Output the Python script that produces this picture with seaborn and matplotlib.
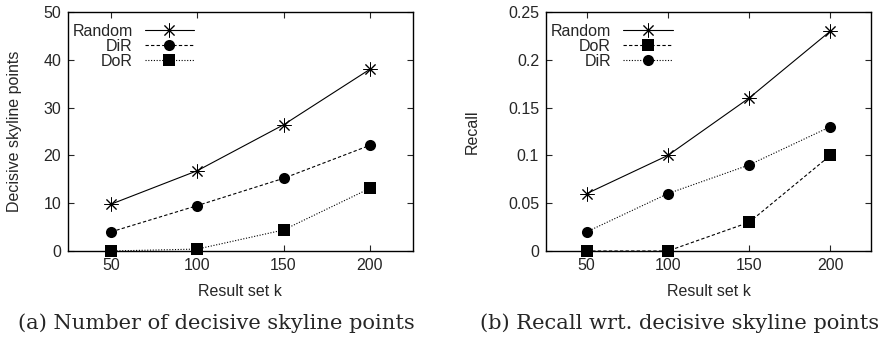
import matplotlib
matplotlib.use("Agg")
import matplotlib.pyplot as plt
import seaborn as sns
from matplotlib.ticker import FuncFormatter, MultipleLocator

# data
k = [50, 100, 150, 200]
dec_random = [9.8, 16.8, 26.4, 38.0]
dec_dir = [4.0, 9.5, 15.2, 22.1]
dec_dor = [0.0, 0.4, 4.4, 13.1]
rec_random = [0.06, 0.10, 0.16, 0.23]
rec_dor = [0.0, 0.0, 0.03, 0.10]
rec_dir = [0.02, 0.06, 0.09, 0.13]

sns.set_style("ticks", {"xtick.direction": "in", "ytick.direction": "in"})
plt.rcParams['font.family'] = ['Liberation Sans', 'DejaVu Sans']

star = (8, 2, 0)
dashed = (0, (3, 2))
dotted = (0, (1, 1.5))

fig = plt.figure(figsize=(8.86, 3.38), dpi=100)
ax1 = fig.add_axes([0.0767, 0.2574, 0.466 - 0.0767, 0.9645 - 0.2574])
ax2 = fig.add_axes([0.6163, 0.2574, 0.983 - 0.6163, 0.9645 - 0.2574])


def draw(ax, series):
    for name, vals, mk, ms, ls in series:
        sns.lineplot(x=k, y=vals, ax=ax, color='black', marker=mk, markersize=ms,
                     markeredgecolor='black',
                     markeredgewidth=0.7 if mk == star else 0, linestyle=ls,
                     linewidth=0.8, label=name)
    ax.set_xlim(25, 225)
    ax.set_xticks(k)
    ax.tick_params(which='both', direction='in', top=True, right=True,
                   length=4, width=0.8, labelsize=11.5, pad=5)
    for s in ax.spines.values():
        s.set_linewidth(1.0)
        s.set_color('black')
    ax.set_xlabel('Result set k', fontsize=11.5, labelpad=8)
    # markerfirst=False right-aligns labels against the line samples
    ax.legend(loc='upper left', bbox_to_anchor=(-0.01, 0.985), markerfirst=False,
              frameon=False, fontsize=11.5, handlelength=3.1, handletextpad=0.75,
              labelspacing=0.0, borderaxespad=0.3, borderpad=0.2)


draw(ax1, [('Random', dec_random, star, 10, '-'),
           ('DiR', dec_dir, 'o', 8, dashed),
           ('DoR', dec_dor, 's', 8.5, dotted)])
ax1.set_ylim(0, 50)
ax1.yaxis.set_major_locator(MultipleLocator(10))
ax1.set_ylabel('Decisive skyline points', fontsize=11.5, labelpad=15)

draw(ax2, [('Random', rec_random, star, 10, '-'),
           ('DoR', rec_dor, 's', 8.5, dashed),
           ('DiR', rec_dir, 'o', 8, dotted)])
ax2.set_ylim(0, 0.25)
ax2.yaxis.set_major_locator(MultipleLocator(0.05))
ax2.yaxis.set_major_formatter(FuncFormatter(lambda v, p: '%g' % round(v, 3)))
ax2.set_ylabel('Recall', fontsize=11.5, labelpad=20)

for ax in (ax1, ax2):
    for line in ax.get_lines():
        line.set_clip_on(False)

fig.text(216 / 886, 1 - 323 / 338, '(a) Number of decisive skyline points',
         ha='center', va='center', fontsize=15.1, family='DejaVu Serif')
fig.text(680 / 886, 1 - 323 / 338, '(b) Recall wrt. decisive skyline points',
         ha='center', va='center', fontsize=15.1, family='DejaVu Serif')

fig.savefig('out.png', dpi=100)
